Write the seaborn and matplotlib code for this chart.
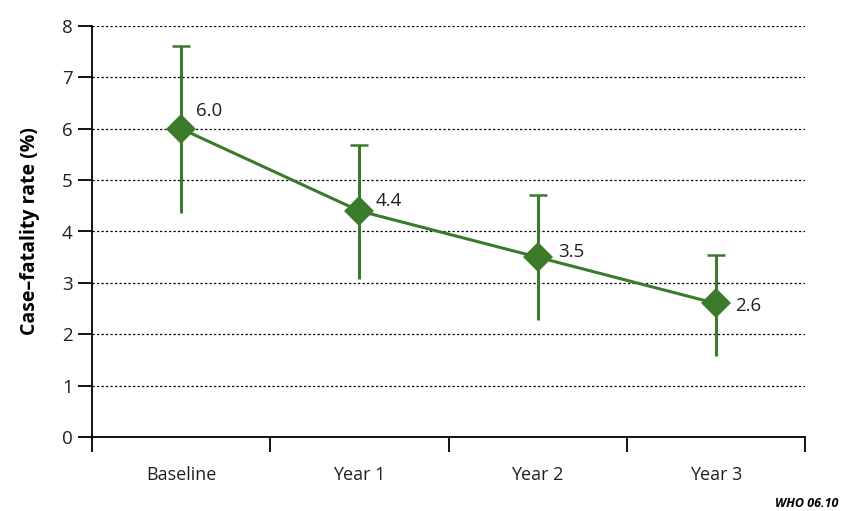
import matplotlib
matplotlib.use("Agg")
import matplotlib.pyplot as plt
import seaborn as sns
import pandas as pd
import numpy as np

categories = ["Baseline", "Year 1", "Year 2", "Year 3"]
rate = [6.0, 4.4, 3.5, 2.6]
ci_low = [4.36, 3.07, 2.28, 1.57]
ci_high = [7.62, 5.69, 4.71, 3.54]
labels = ["6.0", "4.4", "3.5", "2.6"]
label_offsets = [(10.5, 6), (11.5, 1), (14.5, -3), (13.5, -8)]

sns.set_theme(style="white")
plt.rcParams["font.family"] = ["Open Sans", "DejaVu Sans"]

green = "#3A7A2A"
df = pd.DataFrame({"cat": categories, "pos": np.arange(len(categories)), "rate": rate})

fig = plt.figure(figsize=(8.41, 5.11), dpi=100)
ax = fig.add_axes([92/841, 1-437/511, (805-92)/841, (437-26)/511])

# error bars (lower without cap, upper with cap)
ax.vlines(df["pos"], ci_low, ci_high, color=green, lw=2.2, zorder=3)
ax.plot(df["pos"], ci_high, ls="none", marker="_", ms=12.5, mew=1.8, color=green, zorder=3)

sns.lineplot(data=df, x="pos", y="rate", ax=ax, color=green, lw=2.2, marker="D",
             markersize=15.5, markeredgewidth=0, zorder=4)

for i, (v, t) in enumerate(zip(rate, labels)):
    ax.annotate(t, (i, v), xytext=label_offsets[i], textcoords="offset points",
                ha="left", va="bottom", fontsize=13.5, color="#231F20")

ax.set_xlim(-0.5, 3.5)
ax.set_ylim(0, 8)
ax.set_yticks(range(0, 9))
ax.set_xticks(range(4))
ax.set_xticklabels(categories)
ax.set_xticks(np.arange(-0.5, 4, 1), minor=True)
ax.tick_params(axis="x", which="major", length=0, pad=21, labelsize=13, labelcolor="#231F20")
ax.tick_params(axis="x", which="minor", length=11, width=1.3, direction="out", color="black", bottom=True)
ax.tick_params(axis="y", which="major", length=10, width=1.3, direction="out", color="black",
               pad=4, labelsize=13.5, labelcolor="#231F20", left=True)

for y in range(1, 9):
    ax.axhline(y, color="black", lw=0.9, ls=(0, (1.8, 1.8)), zorder=1)

for s in ["top", "right"]:
    ax.spines[s].set_visible(False)
for s in ["left", "bottom"]:
    ax.spines[s].set_color("black")
    ax.spines[s].set_linewidth(1.3)

ax.set_xlabel("")
ax.set_ylabel("Case–fatality rate (%)", fontsize=14, fontweight="bold", labelpad=16, color="black")

fig.text(838/841, 1-503/511, "WHO 06.10", ha="right", va="center", fontsize=9,
         fontweight="bold", fontstyle="italic", color="black")

fig.savefig("out.png", dpi=100)
